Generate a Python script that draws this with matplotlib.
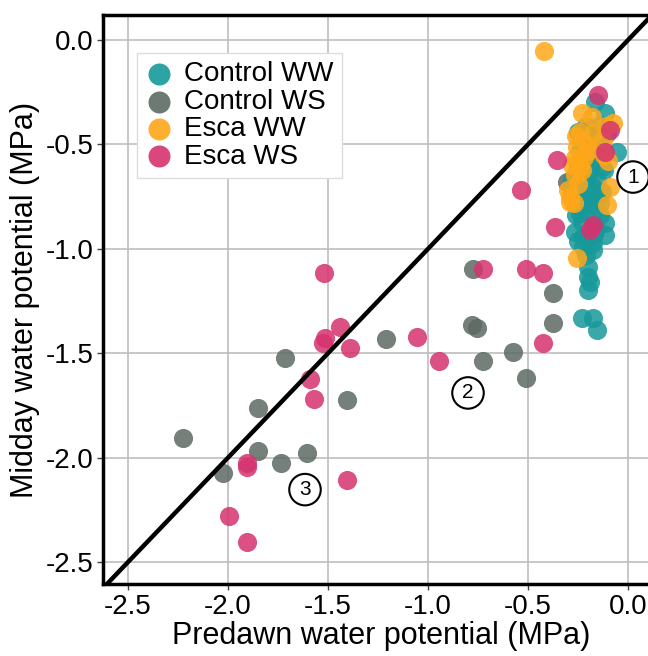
import matplotlib
matplotlib.use("Agg")
import matplotlib.pyplot as plt

plt.rcParams['font.family'] = ['Liberation Sans', 'DejaVu Sans']

# predawn (x) and midday (y) water potential, MPa
ctrl_ww_x = [-0.165, -0.115, -0.25, -0.14, -0.105, -0.055, -0.175, -0.13, -0.205, -0.155,
             -0.28, -0.255, -0.205, -0.155, -0.275, -0.205, -0.14, -0.24, -0.24, -0.175,
             -0.115, -0.265, -0.115, -0.225, -0.175, -0.225, -0.175, -0.2, -0.2, -0.2,
             -0.23, -0.175, -0.155, -0.22, -0.19, -0.23, -0.2, -0.16, -0.25, -0.2,
             -0.12, -0.26, -0.19, -0.21, -0.17, -0.24, -0.15, -0.26, -0.18, -0.22,
             -0.14, -0.25, -0.21, -0.19, -0.17, -0.13]
ctrl_ww_y = [-0.297, -0.349, -0.44, -0.407, -0.445, -0.536, -0.574, -0.608, -0.655, -0.67,
             -0.67, -0.718, -0.732, -0.751, -0.766, -0.78, -0.78, -0.799, -0.828, -0.837,
             -0.876, -0.919, -0.933, -0.943, -0.971, -0.99, -1.005, -1.086, -1.134, -1.196,
             -1.33, -1.33, -1.388, -0.5, -0.62, -0.87, -0.95, -0.9, -0.6, -0.45,
             -0.62, -0.84, -0.79, -0.41, -0.48, -0.53, -0.56, -0.72, -0.7, -0.76,
             -0.84, -0.96, -1.03, -1.16, -0.93, -0.73]

ctrl_ws_x = [-2.225, -2.025, -1.85, -1.85, -1.735, -1.715, -1.605, -1.405, -1.21, -0.775,
             -0.78, -0.755, -0.725, -0.575, -0.51, -0.375, -0.375, -0.305]
ctrl_ws_y = [-1.904, -2.072, -1.761, -1.967, -2.024, -1.522, -1.976, -1.722, -1.431, -1.096,
             -1.364, -1.378, -1.536, -1.493, -1.617, -1.211, -1.354, -0.679]

esca_ww_x = [-0.23, -0.075, -0.175, -0.125, -0.255, -0.205, -0.265, -0.24, -0.265, -0.09,
             -0.3, -0.29, -0.29, -0.105, -0.255, -0.42, -0.22, -0.25, -0.12, -0.26,
             -0.2, -0.27, -0.11, -0.18, -0.24, -0.28, -0.23, -0.1]
esca_ww_y = [-0.349, -0.397, -0.445, -0.478, -0.512, -0.502, -0.565, -0.608, -0.646, -0.703,
             -0.718, -0.751, -0.775, -0.789, -1.043, -0.053, -0.56, -0.69, -0.55, -0.46,
             -0.53, -0.78, -0.41, -0.37, -0.44, -0.6, -0.62, -0.58]

esca_ws_x = [-0.15, -0.09, -0.115, -0.355, -0.535, -0.365, -0.175, -0.19, -0.725, -0.51,
             -0.425, -1.52, -1.44, -1.515, -1.525, -1.39, -1.055, -0.945, -0.425, -1.59,
             -1.57, -1.905, -1.905, -1.405, -1.995, -1.905]
esca_ws_y = [-0.263, -0.43, -0.536, -0.574, -0.718, -0.895, -0.885, -0.909, -1.096, -1.096,
             -1.115, -1.115, -1.373, -1.426, -1.45, -1.474, -1.421, -1.536, -1.45, -1.622,
             -1.718, -2.024, -2.043, -2.105, -2.278, -2.402]

labels = ["Control WW", "Control WS", "Esca WW", "Esca WS"]
colors = ["#17999a", "#5d6a64", "#ffa719", "#d6336f"]

ticks = [-2.5, -2.0, -1.5, -1.0, -0.5, 0.0]
tick_labels = ["-2.5", "-2.0", "-1.5", "-1.0", "-0.5", "0.0"]

# circled group numbers
groups = ["1", "2", "3"]
group_x = [0.025, -0.8, -1.615]
group_y = [-0.656, -1.69, -2.153]

fig = plt.figure(figsize=(6.48, 6.56), dpi=100)
ax = fig.add_axes([103 / 648, 72 / 656, 557 / 648, 569 / 656])

sz = 190
a = 0.85
h_ctrl_ws = ax.scatter(ctrl_ws_x, ctrl_ws_y, s=sz, color=colors[1], alpha=a, lw=0, zorder=3)
h_ctrl_ww = ax.scatter(ctrl_ww_x, ctrl_ww_y, s=sz, color=colors[0], alpha=a, lw=0, zorder=3)
h_esca_ww = ax.scatter(esca_ww_x, esca_ww_y, s=sz, color=colors[2], alpha=a, lw=0, zorder=3)
h_esca_ws = ax.scatter(esca_ws_x, esca_ws_y, s=sz, color=colors[3], alpha=a, lw=0, zorder=3)

# 1:1 line
ax.plot([-3, 1], [-3, 1], color="black", lw=3.2, zorder=4)

for g, gx, gy in zip(groups, group_x, group_y):
    ax.text(gx, gy, g, fontsize=15, ha="center", va="center", zorder=5,
            bbox=dict(boxstyle="circle,pad=0.3", fc="white", ec="black", lw=1.5))

ax.set_xlim(-2.625, 0.16)
ax.set_ylim(-2.605, 0.12)
ax.set_xticks(ticks)
ax.set_xticklabels(tick_labels)
ax.set_yticks(ticks)
ax.set_yticklabels(tick_labels)
ax.tick_params(labelsize=20, length=4, width=1, color="#444444", pad=3)
ax.grid(True, color="#bdbdbd", lw=1.2, zorder=0)
ax.set_axisbelow(True)
for sp in ax.spines.values():
    sp.set_linewidth(2.5)

ax.set_xlabel("Predawn water potential (MPa)", fontsize=22, labelpad=1)
ax.set_ylabel("Midday water potential (MPa)", fontsize=22, labelpad=4)

leg = ax.legend([h_ctrl_ww, h_ctrl_ws, h_esca_ww, h_esca_ws], labels,
                loc="upper left", bbox_to_anchor=(0.061, 0.933), borderaxespad=0,
                fontsize=20, fancybox=False, edgecolor="#dddddd", framealpha=1,
                labelspacing=0.05, handletextpad=0.4, borderpad=0.3,
                handlelength=1.0, markerscale=1.15)
for h in leg.legend_handles:
    h.set_alpha(0.9)

fig.savefig("out.png", dpi=100)
